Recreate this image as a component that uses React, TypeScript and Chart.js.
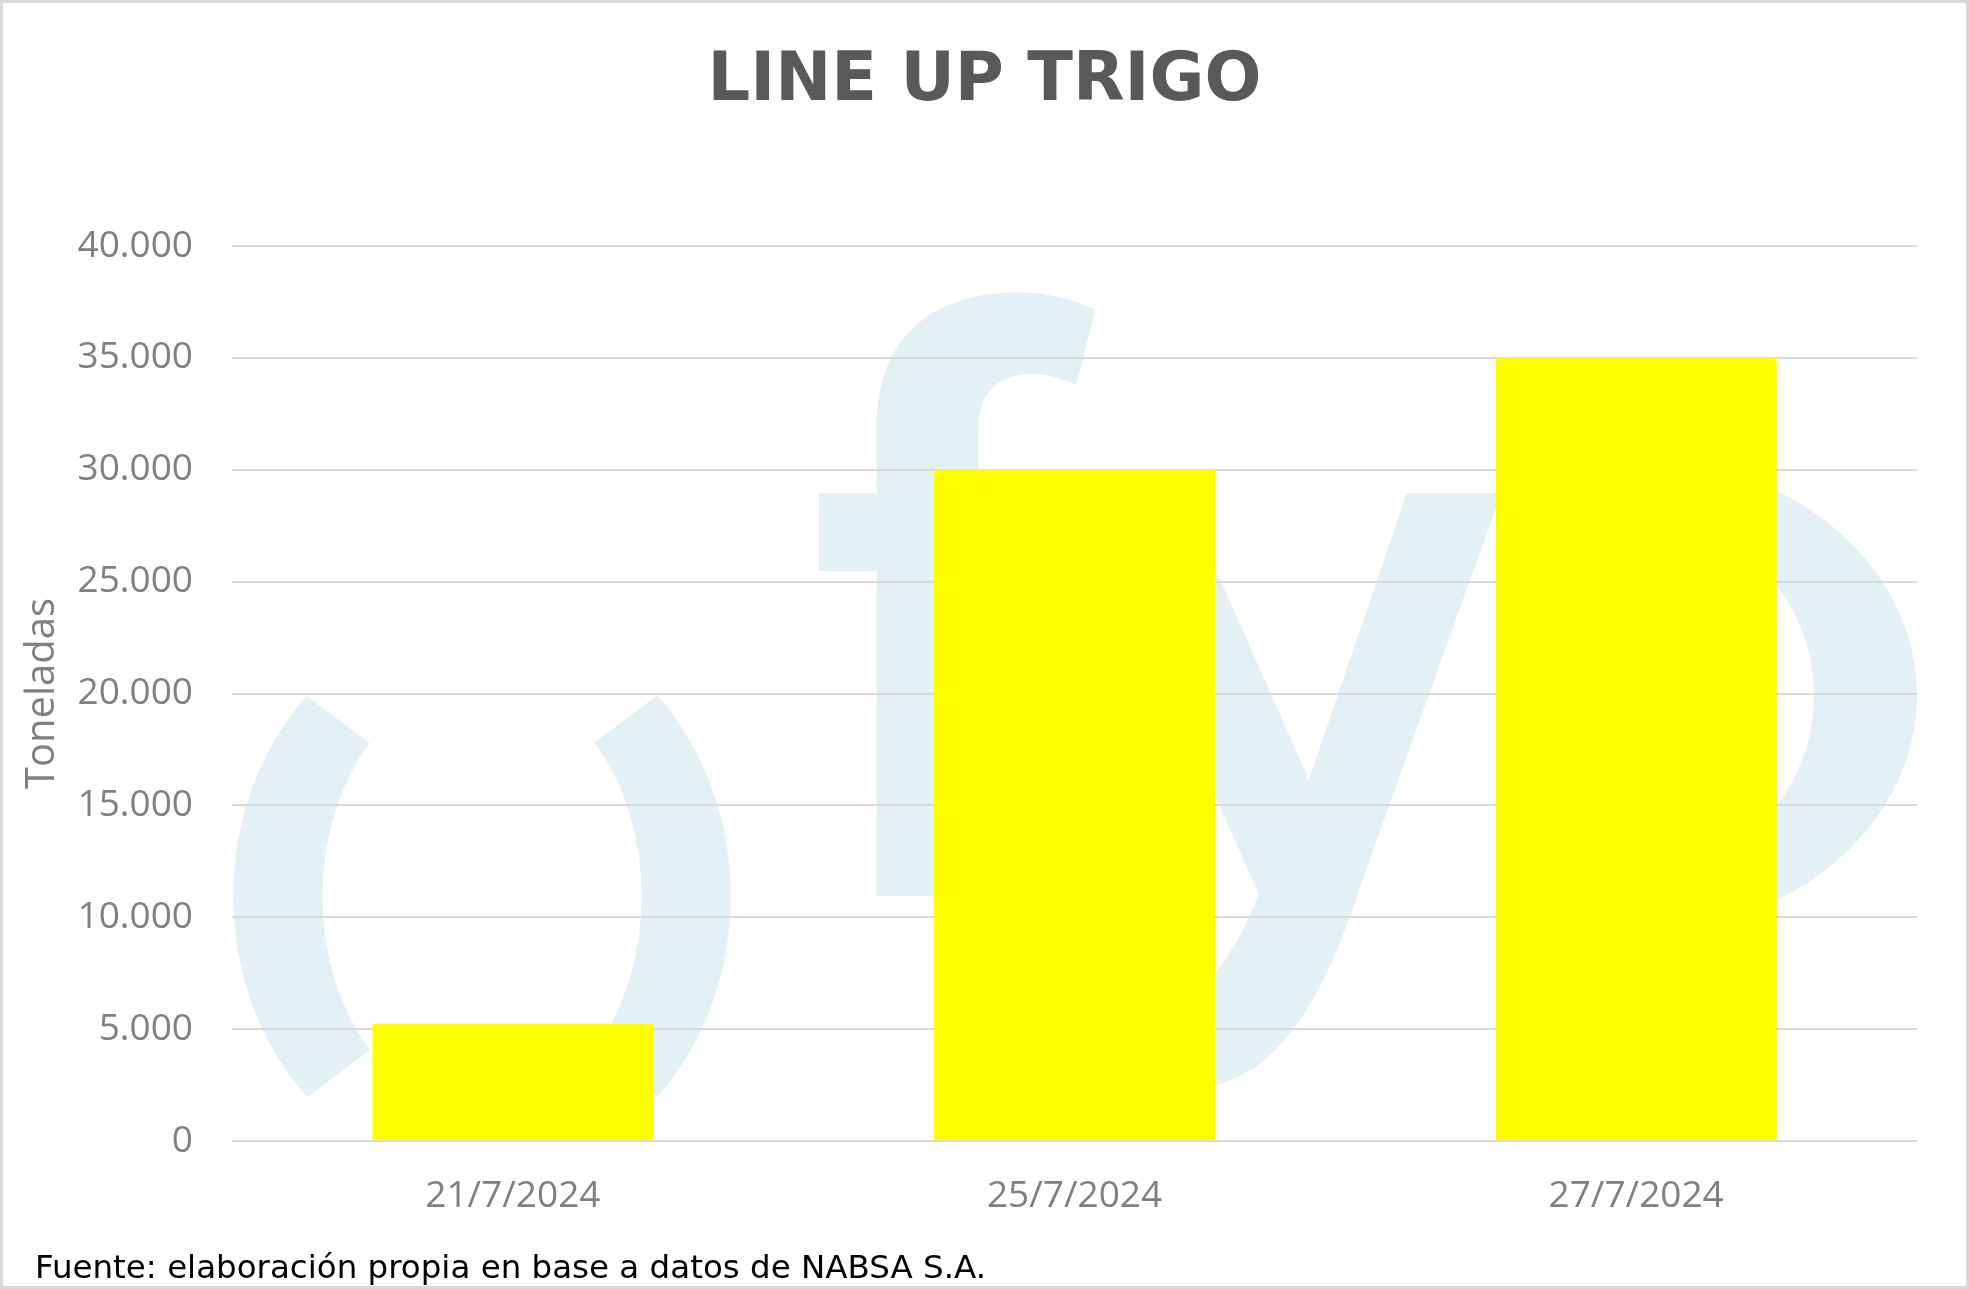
import { useEffect, useRef } from 'react';
import { Chart, registerables } from 'chart.js';

Chart.register(...registerables);

const categories = ['21/7/2024', '25/7/2024', '27/7/2024'];
const toneladas = [5240, 30000, 35000];
const yMin = 0;
const yMax = 40000;
const yStep = 5000;
const chartTitle = 'LINE UP TRIGO';
const yAxisTitle = 'Toneladas';
const footnote = 'Fuente: elaboración propia en base a datos de NABSA S.A.';

const fmt = (v: number) => String(Math.round(v)).replace(/\B(?=(\d{3})+(?!\d))/g, '.');

const W = 1969;
const H = 1289;

// decorative background logo (drawn in a reference frame of the plot area)
const watermarkPlugin = {
  id: 'watermark',
  beforeDraw(chart: any) {
    const { ctx, chartArea: a } = chart;
    ctx.save();
    ctx.fillStyle = '#ffffff';
    ctx.fillRect(0, 0, W, H);
    const kx = (a.right - a.left) / 1341;
    const ky = (a.bottom - a.top) / 713;
    const X = (v: number) => a.left + (v - 185) * kx;
    const Y = (v: number) => a.top + (v - 195) * ky;
    ctx.fillStyle = '#e3f1f5';

    // ( ) ring pieces
    const cx = 384, cy = 713;
    const pieces = [[2.35, 3.93], [-0.79, 0.79]];
    for (const [s, e] of pieces) {
      ctx.beginPath();
      ctx.ellipse(X(cx), Y(cy), 198 * kx, 225 * ky, 0, s, e, false);
      ctx.ellipse(X(cx), Y(cy), 127 * kx, 172 * ky, 0, e, s, true);
      ctx.closePath();
      ctx.fill();
    }

    // f
    ctx.beginPath();
    ctx.moveTo(X(698), Y(713));
    ctx.lineTo(X(698), Y(340));
    ctx.bezierCurveTo(X(698), Y(262), X(748), Y(232), X(810), Y(232));
    ctx.bezierCurveTo(X(836), Y(232), X(856), Y(238), X(872), Y(246));
    ctx.lineTo(X(857), Y(306));
    ctx.bezierCurveTo(X(845), Y(300), X(830), Y(296), X(817), Y(297));
    ctx.bezierCurveTo(X(792), Y(299), X(779), Y(315), X(779), Y(340));
    ctx.lineTo(X(779), Y(713));
    ctx.closePath();
    ctx.fill();
    ctx.fillRect(X(652), Y(392), 200 * kx, 62 * ky);

    // y
    ctx.beginPath();
    ctx.moveTo(X(861), Y(392));
    ctx.lineTo(X(941), Y(392));
    ctx.lineTo(X(1042), Y(620));
    ctx.lineTo(X(1120), Y(392));
    ctx.lineTo(X(1195), Y(392));
    ctx.lineTo(X(1084), Y(702));
    ctx.bezierCurveTo(X(1062), Y(770), X(1040), Y(815), X(1005), Y(845));
    ctx.bezierCurveTo(X(985), Y(860), X(965), Y(866), X(930), Y(872));
    ctx.lineTo(X(920), Y(815));
    ctx.bezierCurveTo(X(965), Y(790), X(990), Y(745), X(1002), Y(711));
    ctx.closePath();
    ctx.fill();

    // p bowl
    ctx.beginPath();
    ctx.ellipse(X(1300), Y(553), 226 * kx, 189 * ky, 0, -Math.PI / 2, Math.PI / 2, false);
    ctx.ellipse(X(1300), Y(553), 144 * kx, 144 * ky, 0, Math.PI / 2, -Math.PI / 2, true);
    ctx.closePath();
    ctx.fill();
    ctx.restore();
  },
  afterDraw(chart: any) {
    const { ctx } = chart;
    ctx.save();
    ctx.font = 'bold 67px "DejaVu Sans"';
    ctx.fillStyle = '#595959';
    ctx.textBaseline = 'middle';
    ctx.textAlign = 'center';
    ctx.fillText(chartTitle, W / 2, 83);
    ctx.font = '32.5px "DejaVu Sans"';
    ctx.fillStyle = '#000000';
    ctx.textAlign = 'left';
    ctx.fillText(footnote, 35, 1270);
    ctx.strokeStyle = '#d9d9d9';
    ctx.lineWidth = 3;
    ctx.strokeRect(1.5, 1.5, W - 3, H - 3);
    ctx.restore();
  },
};

export default function App() {
  const ref = useRef<HTMLCanvasElement | null>(null);

  useEffect(() => {
    if (!ref.current) return;
    const tickFont = { family: 'Open Sans', size: 37 };
    const chart = new Chart(ref.current, {
      type: 'bar',
      data: {
        labels: categories,
        datasets: [
          {
            label: 'Toneladas',
            data: toneladas,
            backgroundColor: '#ffff00',
            borderWidth: 0,
            barPercentage: 0.5,
            categoryPercentage: 1,
          },
        ],
      },
      options: {
        animation: false,
        responsive: false,
        devicePixelRatio: 1,
        layout: { padding: { left: 0, right: 52, top: 246, bottom: 0 } },
        plugins: {
          legend: { display: false },
          tooltip: { enabled: false },
          title: { display: false },
        },
        scales: {
          x: {
            grid: { display: false },
            border: { display: false },
            ticks: { color: '#808080', font: tickFont, padding: 25, maxRotation: 0, autoSkip: false },
            afterFit: (s: any) => {
              s.height = 148;
            },
          },
          y: {
            min: yMin,
            max: yMax,
            ticks: {
              stepSize: yStep,
              color: '#808080',
              font: tickFont,
              padding: 39,
              callback: (v: any) => fmt(Number(v)),
            },
            grid: { color: '#d9d9d9', lineWidth: 2, drawTicks: false },
            border: { display: false },
            title: {
              display: true,
              text: yAxisTitle,
              color: '#808080',
              font: { family: 'Open Sans', size: 40, lineHeight: 1.2 },
              padding: { top: 19, bottom: 0 },
            },
            afterFit: (s: any) => {
              s.width = 232;
            },
          },
        },
      } as any,
      plugins: [watermarkPlugin],
    });
    return () => chart.destroy();
  }, []);

  return (
    <div style={{ position: 'absolute', left: 0, top: 0, width: W, height: H, background: '#fff' }}>
      <canvas ref={ref} width={W} height={H} style={{ display: 'block' }} />
    </div>
  );
}
